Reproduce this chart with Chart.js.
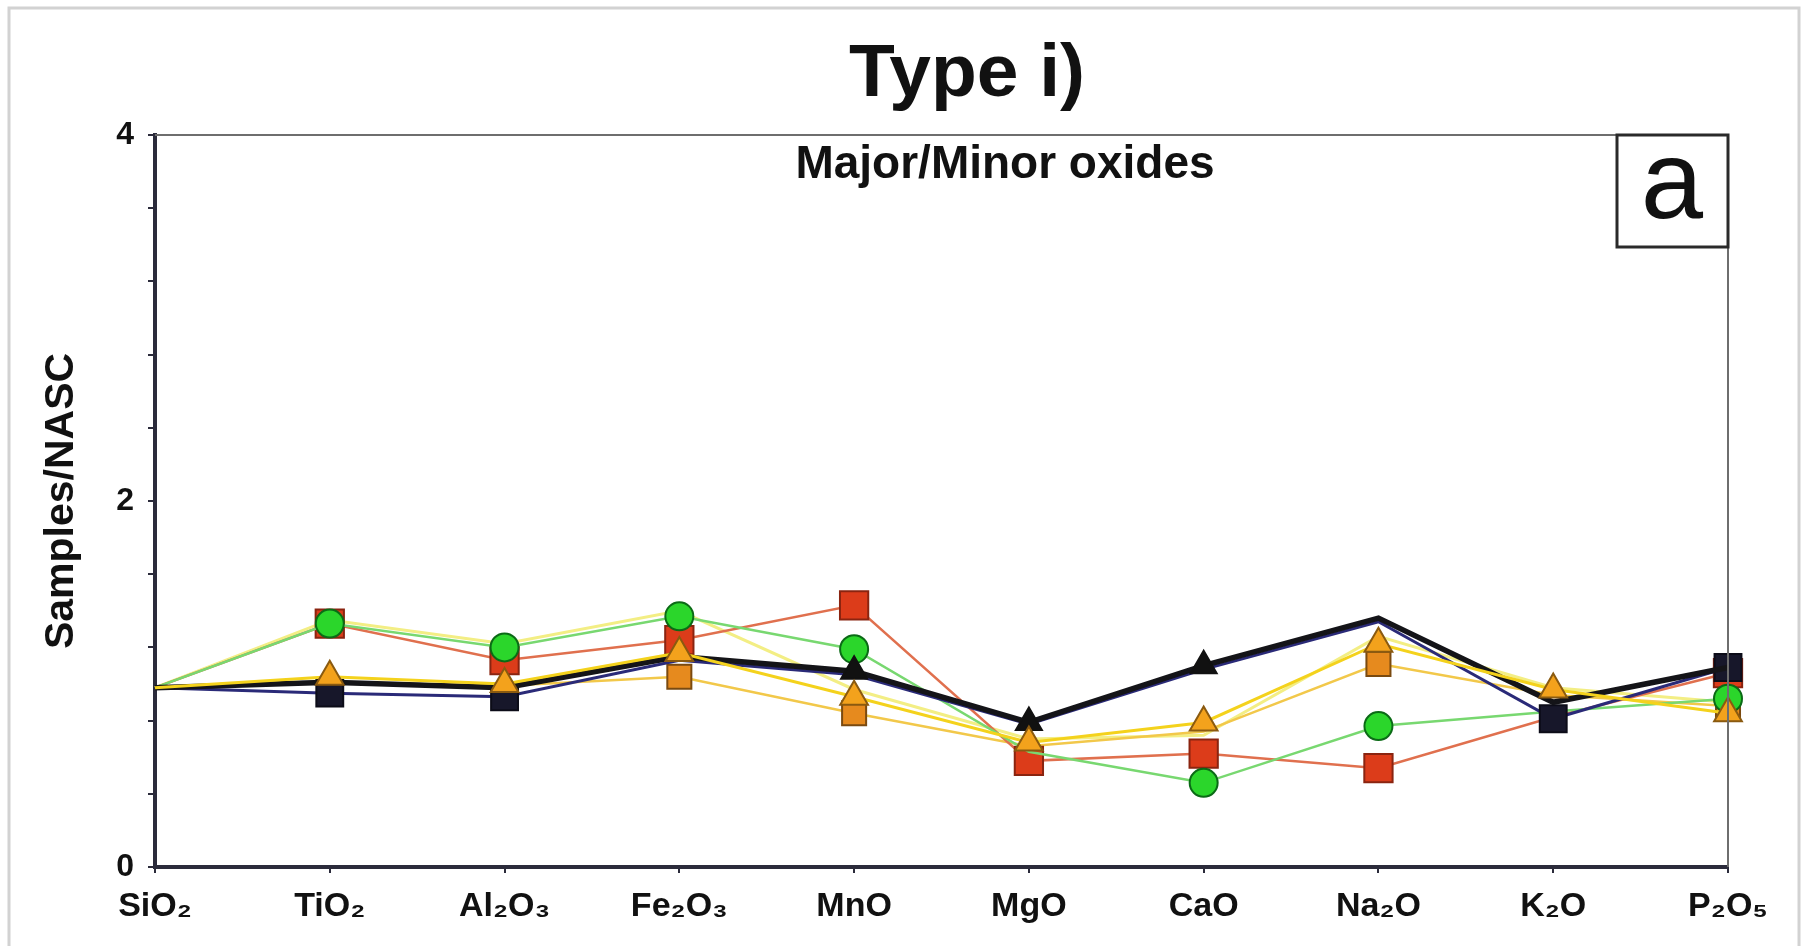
<!DOCTYPE html>
<html>
<head>
<meta charset="utf-8">
<title>Type i)</title>
<script src="https://cdn.jsdelivr.net/npm/chart.js@4.4.1/dist/chart.umd.min.js"></script>
<style>
  html, body { margin: 0; padding: 0; background: #fff; }
  #wrap { position: relative; width: 1806px; height: 946px; }
</style>
</head>
<body>
<div id="wrap"><canvas id="oxides"></canvas></div>
<script>
// Type i) samples normalised to NASC, major/minor oxides
var oxides = ['SiO₂', 'TiO₂', 'Al₂O₃', 'Fe₂O₃', 'MnO', 'MgO', 'CaO', 'Na₂O', 'K₂O', 'P₂O₅'];
var yLabelled = [0, 2, 4];

var blackTri   = [0.98, 1.01, 0.98, 1.15, 1.07, 0.79, 1.10, 1.36, 0.90, 1.09];
var navySq     = [0.98, 0.95, 0.93, 1.13, 1.05, 0.78, 1.08, 1.34, 0.81, 1.09];
var greenCirc  = [0.98, 1.33, 1.20, 1.37, 1.19, 0.63, 0.46, 0.77, 0.85, 0.92];
var redSq      = [0.98, 1.33, 1.13, 1.24, 1.43, 0.58, 0.62, 0.54, 0.82, 1.06];
var orangeTri  = [0.98, 1.04, 1.00, 1.17, 0.93, 0.68, 0.79, 1.22, 0.97, 0.84];
var orangeSq   = [0.98, 1.01, 0.99, 1.04, 0.84, 0.66, 0.74, 1.11, 0.94, 0.88];
var paleYellow = [0.98, 1.35, 1.22, 1.40, 0.97, 0.70, 0.72, 1.26, 0.98, 0.90];

var sansBold = "'Liberation Sans', Arial, sans-serif";

// markers overlap a lot in the original, so each series only shows the ones that are visible there
function series(data, line, width, style, radius, fill, edge, shownAt, order) {
  return {
    data: data,
    order: order,
    borderColor: line,
    borderWidth: width,
    pointStyle: style,
    pointRadius: function (c) { return shownAt.indexOf(c.dataIndex) >= 0 ? radius : 0; },
    pointBackgroundColor: fill,
    pointBorderColor: edge,
    pointBorderWidth: 2,
    tension: 0,
    fill: false,
    clip: false
  };
}

// title, panel heading, the "a" box, outer frame and the top/right plot lines
var decorations = {
  id: 'decorations',
  beforeDraw: function (chart) {
    var ctx = chart.ctx;
    ctx.save();
    ctx.strokeStyle = '#d2d2d2';
    ctx.lineWidth = 3;
    ctx.strokeRect(9, 8, 1790, 960);
    ctx.restore();
  },
  afterDraw: function (chart) {
    var ctx = chart.ctx;
    var a = chart.chartArea;
    ctx.save();
    ctx.strokeStyle = '#6e6e6e';
    ctx.lineWidth = 2;
    ctx.beginPath();
    ctx.moveTo(a.left, a.top);
    ctx.lineTo(a.right, a.top);
    ctx.lineTo(a.right, a.bottom);
    ctx.stroke();

    ctx.fillStyle = '#111';
    ctx.textAlign = 'center';
    ctx.textBaseline = 'alphabetic';
    ctx.font = 'bold 75px ' + sansBold;
    ctx.fillText('Type i)', 967, 96);
    ctx.font = 'bold 46px ' + sansBold;
    ctx.fillText('Major/Minor oxides', 1005, 178);

    ctx.fillStyle = '#fff';
    ctx.fillRect(1617, a.top, 111, 112);
    ctx.strokeStyle = '#2a2a2a';
    ctx.lineWidth = 3;
    ctx.strokeRect(1617, a.top, 111, 112);
    ctx.fillStyle = '#111';
    ctx.font = 'normal 112px ' + sansBold;
    ctx.fillText('a', 1672, a.top + 83);
    ctx.restore();
  }
};

var ctx = document.getElementById('oxides').getContext('2d');
var chart = new Chart(ctx, {
  type: 'line',
  data: {
    labels: oxides,
    datasets: [
      series(blackTri, '#141418', 5.5, 'triangle', 15, '#111', '#111', [4, 5, 6], 1),
      series(navySq, '#2a2a78', 3, 'rect', 19, '#17172a', '#0c0c18', [1, 2, 8, 9], 2),
      series(greenCirc, '#78d870', 2.5, 'circle', 14, '#2bd62b', '#0b6a16', [1, 2, 3, 4, 6, 7, 9], 3),
      series(redSq, '#e0704e', 2.5, 'rect', 20, '#dc3c1a', '#8a2410', [1, 2, 3, 4, 5, 6, 7, 9], 4),
      series(orangeTri, '#f4d21c', 3, 'triangle', 16, '#f3a21c', '#8a5a10', [1, 2, 3, 4, 5, 6, 7, 8, 9], 0),
      series(orangeSq, '#f2c84a', 2.5, 'rect', 17, '#e68a1e', '#7a4a10', [3, 4, 7, 9], 5),
      series(paleYellow, '#f3ee84', 3, 'circle', 0, '#f3ee84', '#f3ee84', [], 6)
    ]
  },
  options: {
    responsive: true,
    maintainAspectRatio: false,
    animation: false,
    layout: {
      padding: { top: 135, right: 78, left: 0, bottom: 0 }
    },
    plugins: {
      legend: { display: false },
      tooltip: { enabled: false },
      title: { display: false }
    },
    scales: {
      x: {
        type: 'category',
        offset: false,
        afterFit: function (scale) { scale.height = 79; },
        border: { display: true, color: '#2b2b3b', width: 4 },
        grid: { display: true, drawOnChartArea: false, drawTicks: true, tickLength: 6, color: '#2b2b3b', lineWidth: 2 },
        ticks: {
          autoSkip: false,
          maxRotation: 0,
          padding: 13,
          color: '#111',
          font: { family: sansBold, size: 34, weight: 'bold' }
        }
      },
      y: {
        min: 0,
        max: 4,
        afterFit: function (scale) { scale.width = 155; },
        border: { display: true, color: '#2b2b3b', width: 4 },
        grid: { display: true, drawOnChartArea: false, drawTicks: true, tickLength: 7, color: '#2b2b3b', lineWidth: 2 },
        ticks: {
          stepSize: 0.4,
          autoSkip: false,
          padding: 14,
          color: '#111',
          font: { family: sansBold, size: 32, weight: 'bold' },
          callback: function (v) {
            var r = Math.round(v * 10) / 10;
            return yLabelled.indexOf(r) >= 0 ? String(r) : '';
          }
        },
        title: {
          display: true,
          text: 'Samples/NASC',
          color: '#111',
          padding: { top: 37, bottom: 0 },
          font: { family: sansBold, size: 41, weight: 'bold' }
        }
      }
    }
  },
  plugins: [decorations]
});
</script>
</body>
</html>
